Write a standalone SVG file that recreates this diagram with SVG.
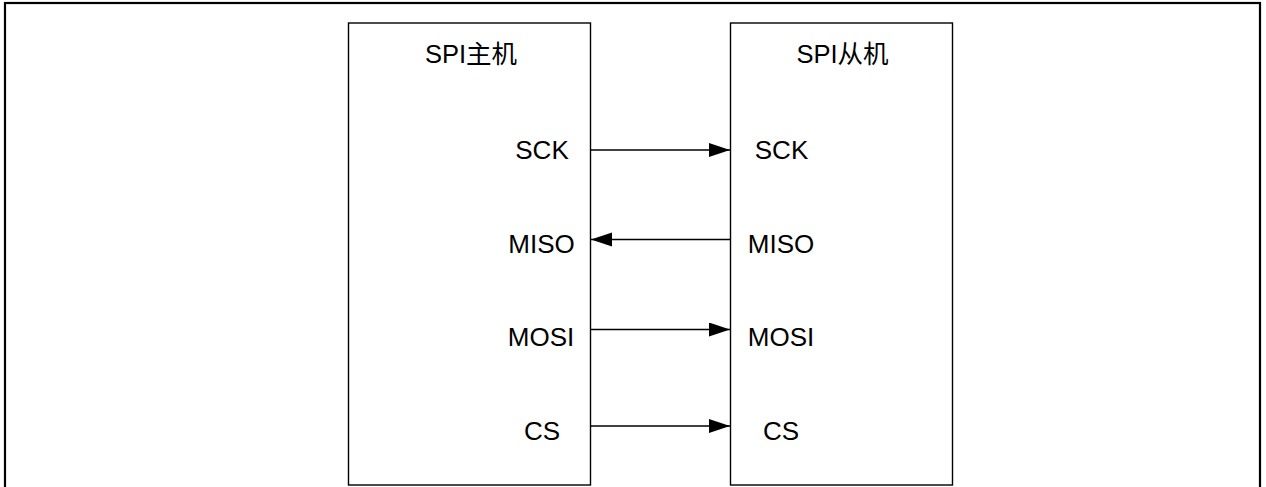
<svg xmlns="http://www.w3.org/2000/svg" width="1266" height="487" viewBox="0 0 1266 487">
<style>
.frame{fill:none;stroke:#000;stroke-width:2.2}
.box{fill:#fff;stroke:#000;stroke-width:1.4}
.lbl{font-family:"Liberation Sans","Noto Sans CJK SC",sans-serif;font-size:26px;fill:#000;text-anchor:middle}
.ttl{font-size:25.5px}
.wire{stroke:#000;stroke-width:1.4;fill:none}
</style>
<defs>
<marker id="ah" markerUnits="userSpaceOnUse" markerWidth="22" markerHeight="15" refX="21" refY="7" orient="auto">
<path d="M0,0 L21,7 L0,14 Z" fill="#000"/>
</marker>
</defs>
<rect width="1266" height="487" fill="#fff"/>
<rect class="frame" x="5" y="3" width="1255" height="500"/>
<g id="master">
<rect class="box" x="348.5" y="23" width="242" height="462"/>
<text class="lbl ttl" x="471" y="63">SPI主机</text>
<text class="lbl" x="542" y="159">SCK</text>
<text class="lbl" x="541.5" y="253">MISO</text>
<text class="lbl" x="541" y="346">MOSI</text>
<text class="lbl" x="542" y="440">CS</text>
</g>
<g id="slave">
<rect class="box" x="730.5" y="23" width="222" height="462"/>
<text class="lbl ttl" x="842.5" y="63">SPI从机</text>
<text class="lbl" x="781.5" y="159">SCK</text>
<text class="lbl" x="781" y="253">MISO</text>
<text class="lbl" x="781" y="346">MOSI</text>
<text class="lbl" x="781" y="440">CS</text>
</g>
<g id="connectors">
<line class="wire" x1="591" y1="150" x2="730" y2="150" marker-end="url(#ah)"/>
<line class="wire" x1="730" y1="239.5" x2="591" y2="239.5" marker-end="url(#ah)"/>
<line class="wire" x1="591" y1="329.5" x2="730" y2="329.5" marker-end="url(#ah)"/>
<line class="wire" x1="591" y1="426" x2="730" y2="426" marker-end="url(#ah)"/>
</g>
</svg>
